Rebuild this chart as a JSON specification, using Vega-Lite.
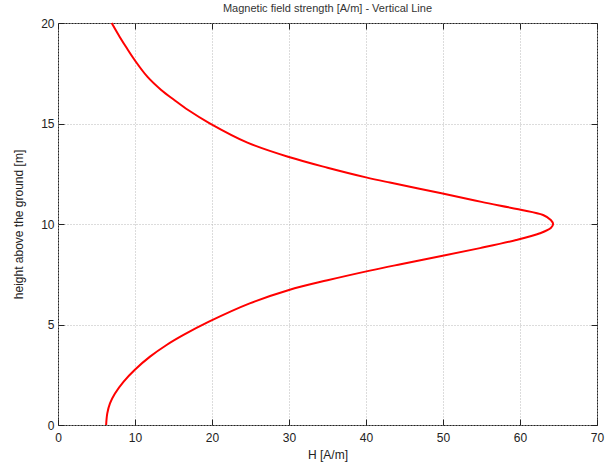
{
  "$schema": "https://vega.github.io/schema/vega-lite/v6.json",
  "width": 539,
  "height": 402,
  "autosize": {"type": "none"},
  "padding": {"left": 58, "top": 23, "right": 8, "bottom": 38},
  "background": "white",
  "title": {
    "text": "Magnetic field strength [A/m] - Vertical Line",
    "fontSize": 11,
    "fontWeight": "normal",
    "font": "Liberation Sans",
    "color": "#333333",
    "anchor": "middle",
    "offset": 3
  },
  "config": {
    "view": {"stroke": "#222222", "strokeWidth": 1},
    "axis": {
      "labelFont": "Liberation Sans",
      "titleFont": "Liberation Sans",
      "labelFontSize": 12,
      "titleFontSize": 12,
      "labelColor": "#222222",
      "titleColor": "#222222",
      "titleFontWeight": "normal",
      "domainColor": "#222222",
      "tickColor": "#222222",
      "gridColor": "#b8b8b8",
      "gridDash": [1, 2],
      "gridWidth": 1
    }
  },
  "datasets": {
    "curve": [
      {"height": 0.0, "H": 6.25},
      {"height": 0.58, "H": 6.4},
      {"height": 1.08, "H": 6.75},
      {"height": 1.57, "H": 7.4},
      {"height": 2.15, "H": 8.5},
      {"height": 2.74, "H": 9.95},
      {"height": 3.4, "H": 11.95},
      {"height": 3.98, "H": 14.1},
      {"height": 4.48, "H": 16.3},
      {"height": 5.14, "H": 19.6},
      {"height": 6.05, "H": 24.9},
      {"height": 6.72, "H": 30.0},
      {"height": 7.2, "H": 35.0},
      {"height": 7.68, "H": 40.5},
      {"height": 8.0, "H": 44.5},
      {"height": 8.41, "H": 49.8},
      {"height": 8.8, "H": 54.8},
      {"height": 9.2, "H": 59.5},
      {"height": 9.54, "H": 62.6},
      {"height": 9.8, "H": 64.0},
      {"height": 10.0, "H": 64.3},
      {"height": 10.2, "H": 64.0},
      {"height": 10.45, "H": 63.0},
      {"height": 10.73, "H": 59.8},
      {"height": 11.1, "H": 55.0},
      {"height": 11.53, "H": 49.8},
      {"height": 12.06, "H": 43.1},
      {"height": 12.32, "H": 40.0},
      {"height": 12.8, "H": 35.0},
      {"height": 13.32, "H": 30.1},
      {"height": 14.05, "H": 24.6},
      {"height": 15.01, "H": 19.7},
      {"height": 15.67, "H": 16.9},
      {"height": 16.17, "H": 15.1},
      {"height": 16.67, "H": 13.4},
      {"height": 17.33, "H": 11.6},
      {"height": 18.16, "H": 9.95},
      {"height": 18.74, "H": 8.95},
      {"height": 19.32, "H": 8.0},
      {"height": 20.0, "H": 6.97}
    ]
  },
  "data": {"name": "curve"},
  "layer": [
    {
      "mark": {"type": "line", "color": "#ff0000", "strokeWidth": 2, "interpolate": "catmull-rom"},
      "encoding": {
        "x": {
          "field": "H", "type": "quantitative",
          "scale": {"domain": [0, 70], "nice": false, "zero": false},
          "axis": {"title": "H [A/m]", "values": [0,10,20,30,40,50,60,70], "tickSize": -6, "labelPadding": 13, "titlePadding": 6, "domain": false, "labelFlush": false}
        },
        "y": {
          "field": "height", "type": "quantitative",
          "scale": {"domain": [0, 20], "nice": false, "zero": false},
          "axis": {"title": "height above the ground [m]", "values": [0,5,10,15,20], "tickSize": -6, "labelPadding": 10, "titlePadding": 15, "domain": false}
        },
        "order": {"field": "height", "type": "quantitative"}
      }
    },
    {
      "mark": {"type": "line", "opacity": 0},
      "encoding": {
        "x": {
          "field": "H", "type": "quantitative",
          "axis": {"orient": "top", "title": null, "labels": false, "grid": false, "domain": false, "values": [0,10,20,30,40,50,60,70], "tickSize": -6}
        },
        "y": {
          "field": "height", "type": "quantitative",
          "axis": {"orient": "right", "title": null, "labels": false, "grid": false, "domain": false, "values": [0,5,10,15,20], "tickSize": -6}
        },
        "order": {"field": "height", "type": "quantitative"}
      }
    }
  ],
  "resolve": {"axis": {"x": "independent", "y": "independent"}}
}
